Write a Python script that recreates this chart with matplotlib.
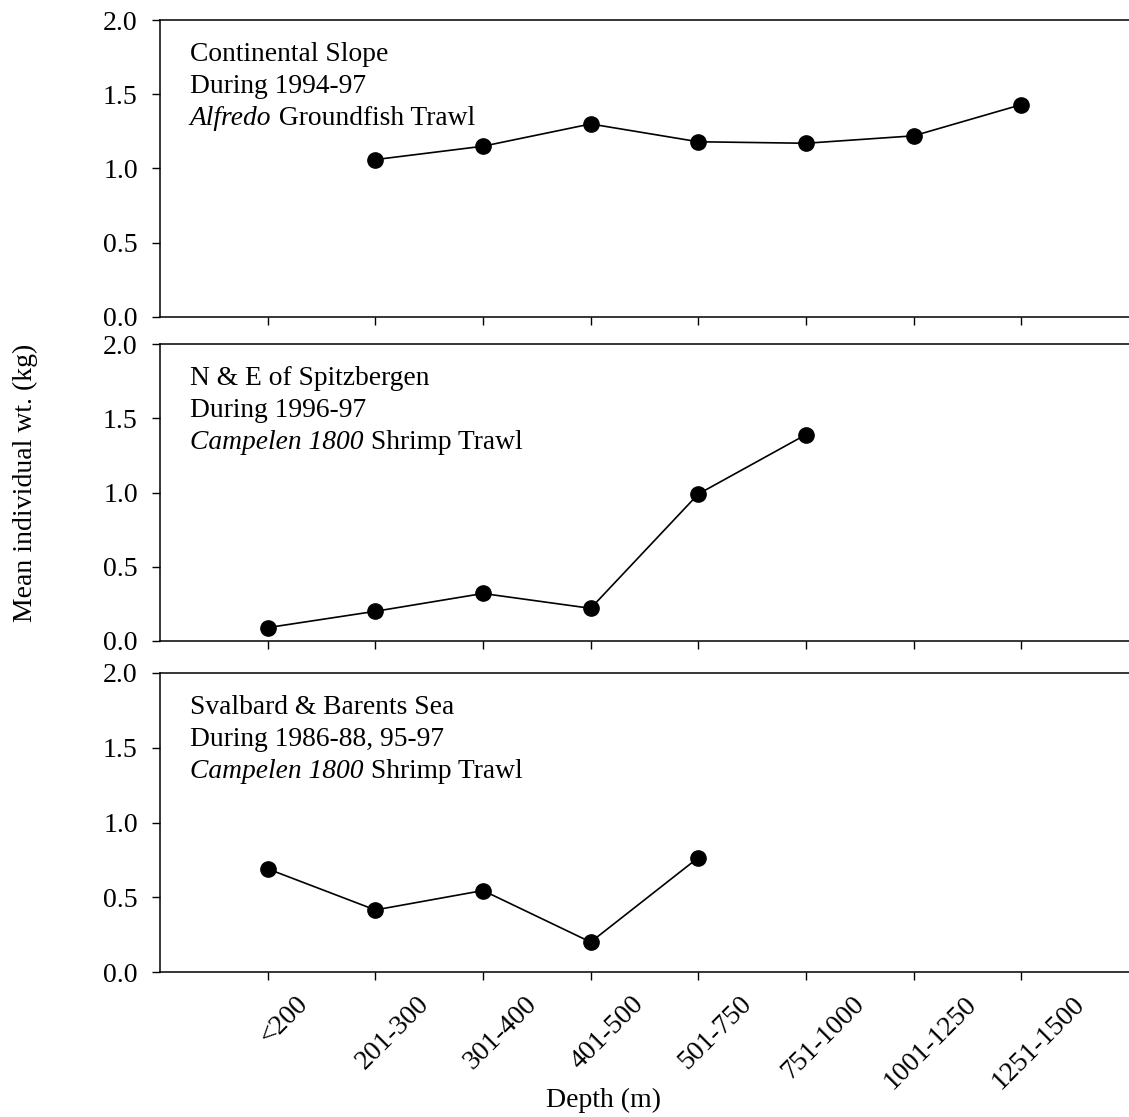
import numpy as np
import matplotlib
matplotlib.use("Agg")
import matplotlib.pyplot as plt
from matplotlib.transforms import ScaledTranslation

plt.rcParams["font.family"] = ["Liberation Serif", "DejaVu Serif"]

# depth classes (m)
depths = ["<200", "201-300", "301-400", "401-500", "501-750",
          "751-1000", "1001-1250", "1251-1500"]

# mean individual weight (kg), NaN = no data
slope_wt = [np.nan, 1.06, 1.15, 1.30, 1.18, 1.17, 1.22, 1.43]
spitz_wt = [0.09, 0.20, 0.32, 0.22, 0.99, 1.39, np.nan, np.nan]
svalbard_wt = [0.69, 0.415, 0.545, 0.20, 0.765, np.nan, np.nan, np.nan]

# (upright line 1, upright line 2, italic part of line 3, upright rest of line 3)
panel_text = [
    ("Continental Slope", "During 1994-97", "Alfredo", " Groundfish Trawl"),
    ("N & E of Spitzbergen", "During 1996-97", "Campelen 1800", " Shrimp Trawl"),
    ("Svalbard & Barents Sea", "During 1986-88, 95-97", "Campelen 1800", " Shrimp Trawl"),
]
series = [slope_wt, spitz_wt, svalbard_wt]

W, H = 1129, 1117
fig = plt.figure(figsize=(W / 100, H / 100), dpi=100)

# panel top/bottom edges in pixels
edges = [(20, 317), (344, 641), (673, 972)]
left = 160 / W
x = np.arange(1, len(depths) + 1)
fs = 19.8

for i, ((top, bot), vals, lines) in enumerate(zip(edges, series, panel_text)):
    ax = fig.add_axes([left, 1 - bot / H, 1 - left, (bot - top) / H])
    ax.plot(x, vals, color="black", lw=1.2, marker="o", ms=11,
            markerfacecolor="black", markeredgecolor="black")
    ax.set_xlim(0, 9)
    ax.set_ylim(0, 2.0)
    ax.set_yticks([0, 0.5, 1.0, 1.5, 2.0])
    ax.set_yticklabels(["0.0", "0.5", "1.0", "1.5", "2.0"])
    ax.set_xticks(x)
    ax.spines["right"].set_visible(False)
    for s in ("left", "top", "bottom"):
        ax.spines[s].set_linewidth(1.1)
    ax.tick_params(direction="out", length=6, width=1.0, labelsize=20, pad=10)
    ax.tick_params(axis="x", pad=8)

    if i < 2:
        ax.set_xticklabels([])
    else:
        ax.set_xticklabels(depths, rotation=45, ha="center", va="top")
        # rotated labels sit a little right of their ticks
        off = ScaledTranslation(17 / 100, 0, fig.dpi_scale_trans)
        for lab in ax.get_xticklabels():
            lab.set_transform(lab.get_transform() + off)

    # three-line caption; baselines 41, 73, 105 px below the top spine
    for k, line in enumerate(lines[:2]):
        ax.annotate(line, xy=(0, 1), xycoords="axes fraction",
                    xytext=(21.6, -(29.5 + 23 * k)), textcoords="offset points",
                    ha="left", va="baseline", fontsize=fs)
    it = ax.annotate(lines[2], xy=(0, 1), xycoords="axes fraction",
                     xytext=(21.6, -(29.5 + 46)), textcoords="offset points",
                     ha="left", va="baseline", fontsize=fs, style="italic")
    ax.annotate(lines[3], xy=(1, 0), xycoords=it, ha="left", va="bottom",
                fontsize=fs)

fig.text(25 / W, 1 - 483 / H, "Mean individual wt. (kg)", rotation=90,
         ha="center", va="center", fontsize=20)
fig.text(604 / W, 1 - 1100 / H, "Depth (m)", ha="center", va="center",
         fontsize=20)

fig.savefig("out.png", dpi=100)
plt.close(fig)
